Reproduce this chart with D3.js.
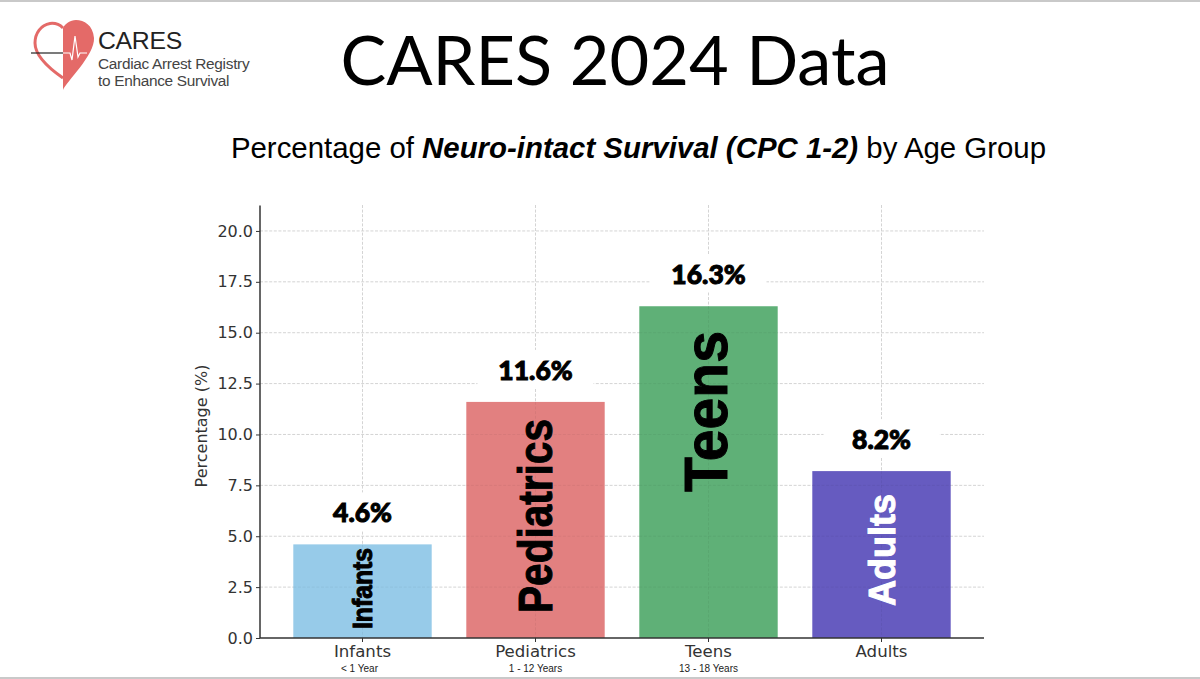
<!DOCTYPE html>
<html><head><meta charset="utf-8">
<script src="https://cdn.jsdelivr.net/npm/d3@7"></script>
<style>html,body{margin:0;padding:0;background:#fff;overflow:hidden}svg{display:block}</style>
</head><body><svg id="c" width="1200" height="679"></svg>
<script>
const categories = ["Infants","Pediatrics","Teens","Adults"];
const subLabels = ["< 1 Year","1 - 12 Years","13 - 18 Years",""];
const values = [4.6,11.6,16.3,8.2];
const valueLabels = ["4.6%","11.6%","16.3%","8.2%"];
const colors = ["#97cbe9","#e28080","#5fb077","#665bc0"];
const inLabelSizes = [27,48,62,37];
const inLabelLengths = [81,194,161,112];
const inLabelColors = ["#000","#000","#000","#fff"];
const yTicks = [0,2.5,5,7.5,10,12.5,15,17.5,20];

const svg = d3.select("#c");
const sans = "'DejaVu Sans',sans-serif", hel = "'Liberation Sans',Arial,sans-serif", gill = "Lato,sans-serif";
const x = d3.scaleBand().domain(categories).range([276,968]).paddingInner(0.2).paddingOuter(0.1);
const y = d3.scaleLinear().domain([0,21.25]).range([638,205.5]);
const left = 260, right = 984;

svg.append("rect").attr("width",1200).attr("height",2).attr("fill","#c9c9c9");
svg.append("rect").attr("y",677).attr("width",1200).attr("height",2).attr("fill","#c9c9c9");

const grid = svg.append("g").attr("stroke","#cfcfcf").attr("stroke-width",0.9).attr("stroke-dasharray","3 1.6");
grid.selectAll(".h").data(yTicks.slice(1)).join("line").attr("x1",left).attr("x2",right).attr("y1",d=>y(d)).attr("y2",d=>y(d));
grid.selectAll(".v").data(categories).join("line").attr("x1",d=>x(d)+x.bandwidth()/2).attr("x2",d=>x(d)+x.bandwidth()/2).attr("y1",205).attr("y2",638);

svg.selectAll(".bar").data(values).join("rect").attr("class","bar")
  .attr("x",(d,i)=>x(categories[i])).attr("width",x.bandwidth())
  .attr("y",d=>y(d)).attr("height",d=>y(0)-y(d)).attr("fill",(d,i)=>colors[i]);

const g2 = svg.append("g").attr("stroke","#000").attr("stroke-opacity",0.06).attr("stroke-width",0.9).attr("stroke-dasharray","3 1.6");
yTicks.slice(1).forEach(t=>categories.forEach((c,i)=>{ if(t<values[i]) g2.append("line").attr("x1",x(c)).attr("x2",x(c)+x.bandwidth()).attr("y1",y(t)).attr("y2",y(t)); }));
categories.forEach((c,i)=>g2.append("line").attr("x1",x(c)+x.bandwidth()/2).attr("x2",x(c)+x.bandwidth()/2).attr("y1",y(values[i])).attr("y2",638));

categories.forEach((c,i)=>{
  const cx = x(c)+x.bandwidth()/2, ly = y(values[i])-31;
  svg.append("rect").attr("x",cx-58).attr("y",ly-21).attr("width",116).attr("height",38).attr("fill","#fff");
  svg.append("text").attr("x",cx).attr("y",ly+9).attr("text-anchor","middle")
    .attr("font-family",gill).attr("font-weight",900).attr("font-size",26.5).attr("fill","#000")
    .attr("stroke","#000").attr("stroke-width",1).text(valueLabels[i]);
});

categories.forEach((c,i)=>{
  const pos = [[372,629],[552,613],[727,492],[895,606]][i];
  svg.append("text").attr("transform",`translate(${pos[0]},${pos[1]}) rotate(-90)`)
    .attr("font-family",hel).attr("font-weight",700).attr("font-size",inLabelSizes[i])
    .attr("textLength",inLabelLengths[i]).attr("lengthAdjust","spacingAndGlyphs")
    .attr("fill",inLabelColors[i]).attr("stroke",inLabelColors[i]).attr("stroke-width",1).text(c);
});

const ax = svg.append("g").attr("transform",`translate(${left},0)`)
  .call(d3.axisLeft(y).tickValues(yTicks).tickFormat(d3.format(".1f")).tickSize(4).tickPadding(3));
ax.select(".domain").attr("stroke","#333").attr("stroke-width",1.5).attr("d","M0,205.5V638");
ax.selectAll("text").attr("font-family",sans).attr("font-size",16).attr("fill","#333");
ax.selectAll("line").attr("stroke","#333");

const bx = svg.append("g").attr("transform","translate(0,638)")
  .call(d3.axisBottom(x).tickSize(4).tickPadding(3));
bx.select(".domain").attr("stroke","#333").attr("stroke-width",1.5).attr("d",`M${left},0H${right}`);
bx.selectAll("text").attr("font-family",sans).attr("font-size",16.6).attr("fill","#333");
bx.selectAll("line").attr("stroke","#333");

categories.forEach((c,i)=>svg.append("text").attr("x",x(c)+x.bandwidth()/2+(i==0?-3:0)).attr("y",672)
  .attr("text-anchor","middle").attr("font-family",hel).attr("font-size",10).attr("fill","#222").text(subLabels[i]));

svg.append("text").attr("transform","translate(207,426) rotate(-90)").attr("text-anchor","middle")
  .attr("font-family",sans).attr("font-size",16).attr("fill","#333").text("Percentage (%)");

svg.append("text").attr("x",615).attr("y",85).attr("text-anchor","middle").attr("font-family",gill)
  .attr("font-size",68.5).attr("fill","#000").text("CARES 2024 Data");
const st = svg.append("text").attr("x",638.5).attr("y",158).attr("text-anchor","middle").attr("font-family",hel).attr("font-size",29.4).attr("fill","#000");
st.append("tspan").text("Percentage of ");
st.append("tspan").attr("font-weight",700).attr("font-style","italic").text("Neuro-intact Survival (CPC 1-2)");
st.append("tspan").text(" by Age Group");

const logo = svg.append("g");
logo.append("path").attr("fill","#e46a68").attr("d","M63,90 C66,82 95,55 94,38 C93,25 84,20 76,20 C70,20 65,24 63,28 Z");
logo.append("path").attr("fill","none").attr("stroke","#e46a68").attr("stroke-width",3).attr("d","M63,28 C59,24 54,23 50,23.5 C41,25 35,33 35,43 C35,56 50,69 63,78");
logo.append("path").attr("fill","none").attr("stroke","#222").attr("stroke-width",1.2).attr("d","M31,53H63");
logo.append("path").attr("fill","none").attr("stroke","#fff").attr("stroke-width",1.2).attr("d","M63,53H70L72,60L75,36L78,57L80,53H87");
const lt = (s,y,size,col)=>logo.append("text").attr("x",98).attr("y",y).attr("font-family",hel).attr("font-size",size).attr("fill",col).attr("letter-spacing",-0.3).text(s);
lt("CARES",49,24.8,"#222"); lt("Cardiac Arrest Registry",69,15.4,"#444"); lt("to Enhance Survival",86,15.4,"#444");
</script></body></html>
